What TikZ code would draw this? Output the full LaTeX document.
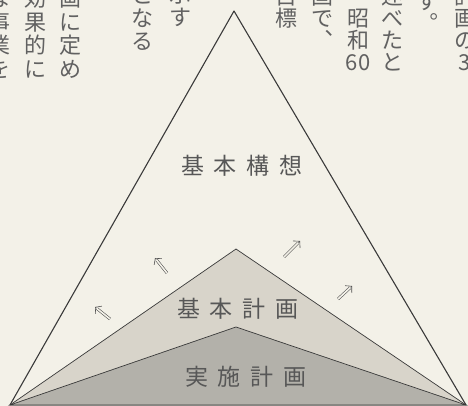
\documentclass[tikz,border=0pt]{standalone}
\usepackage{fontspec}
\newfontfamily\jp{Noto Sans CJK JP}
\usetikzlibrary{arrows.meta,calc}
\definecolor{paper}{HTML}{F3F1E8}
\definecolor{plangray}{HTML}{D8D4CA}
\definecolor{workgray}{HTML}{B3B1AA}
\definecolor{ink}{HTML}{3A3A3A}

\begin{document}
\begin{tikzpicture}[x=1pt,y=1pt,
    stagetext/.style={font=\jp\fontsize{23}{23}\selectfont,text=ink!85,inner sep=0pt},
    pagetext/.style={font=\jp\fontsize{22}{22}\selectfont,text=ink!80,inner sep=0pt,text height=0.88em,text depth=0.12em},
    rise/.style={draw=ink!90,double=paper,double distance=1.7pt,line width=0.55pt,shorten >=2.5pt},
    risehead/.style={draw=ink!90,line width=0.6pt,-{Straight Barb[length=4.5pt,width=10pt]}}]
  \path[use as bounding box] (0,0) rectangle (468,406);
  \clip (0,0) rectangle (468,406);
  \fill[paper] (0,0) rectangle (468,406);

  % page text behind the figure
  \foreach \x/\y/\d/\col in {-1/3/23.5/{な,事,業,を},35/3/23.5/{効,果,的,に},70/3/23.5/{画,に,定,め},
      142/0/23/{と,な,る},180/-1/23/{示,す},286/0.5/22/{目,標},322/0.5/22/{画,で,︑},358/0.5/22/{{},昭,和,60},
      392/0.5/22/{述,べ,た,と},427/6/22/{す,︒},465/0.5/22/{計,画,の,3}}
    \foreach \c [count=\i] in \col \node[pagetext] (p-\x-\i) at (\x,{406-\y-\d*(\i-1)}) {\c};

  \coordinate (L) at (10,1);
  \coordinate (R) at (466,1);
  \coordinate (A) at (234,395);
  \coordinate (M) at (236,157);
  \coordinate (S) at (236,79);

  \filldraw[fill=plangray,draw=ink,line width=0.7pt] (L) -- (M) -- (R) -- cycle;
  \filldraw[fill=workgray,draw=ink,line width=0.7pt] (L) -- (S) -- (R) -- cycle;
  \draw[ink,line width=1.1pt,line join=round] (L) -- (A) -- (R);

  \node[stagetext] (idea) at (242,240) {基\hspace{10pt}本\hspace{10pt}構\hspace{10pt}想};
  \node[stagetext] (plan) at (238,97) {基\hspace{10pt}本\hspace{10pt}計\hspace{10pt}画};
  \node[stagetext] (work) at (246,29) {実\hspace{10pt}施\hspace{10pt}計\hspace{10pt}画};

  % double arrows pointing outward
  \foreach \tx/\ty/\hx/\hy in {110/87/95/99,167/133/155/148,284/149/300/165,338/107/352/120} {
    \draw[rise] (\tx,\ty) -- (\hx,\hy);
    \draw[risehead] ($(\hx,\hy)!0.1!(\tx,\ty)$) -- (\hx,\hy);
  }
\end{tikzpicture}
\end{document}
